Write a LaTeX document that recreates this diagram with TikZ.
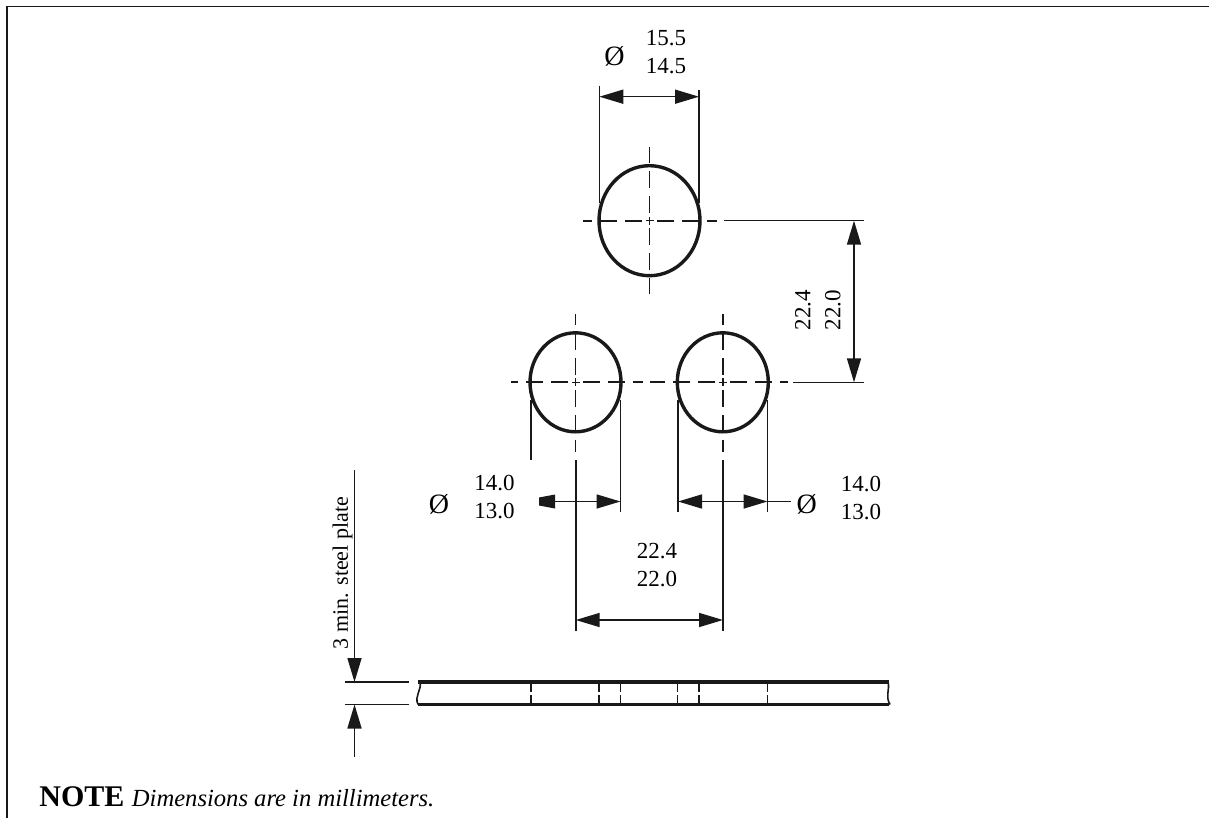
\documentclass[tikz,border=0pt]{standalone}
\usepackage{fontspec}
\setmainfont{Liberation Serif}
\usetikzlibrary{arrows.meta,shapes.geometric}

\tikzset{
  dimline/.style={black!90,line width=0.8pt},
  dimtip/.style={-{Triangle[length=12pt,width=7pt]}},
  dimarrow/.style={dimline,{Triangle[length=12pt,width=7pt]}-{Triangle[length=12pt,width=7pt]}},
  centerline/.style={black!90,line width=0.85pt,dash pattern=on 8.5pt off 4pt,dash phase=8.75pt},
  hole/.style={draw=black!90,line width=1.7pt,ellipse,inner sep=0pt},
  plateline/.style={black!90,line width=1.8pt},
  tick/.style={black!90,line width=0.8pt,dash pattern=on 5pt off 1.5pt},
  label/.style={font=\fontsize{11.5}{11.5}\selectfont,inner sep=0pt},
  sym/.style={font=\fontsize{14}{14}\selectfont,inner sep=0pt}
}

\begin{document}
\begin{tikzpicture}[x=0.5pt,y=-0.5pt]
\useasboundingbox (0,0) rectangle (1209,818);

% frame
\draw[black!90,line width=0.9pt] (1209,6.5) -- (7,6.5) -- (7,818);

% holes
\node[hole,minimum width=50.5pt,minimum height=55pt] (top) at (649.5,220.7) {};
\node[hole,minimum width=45.5pt,minimum height=49.5pt] (left) at (575.5,382.3) {};
\node[hole,minimum width=45.5pt,minimum height=49.5pt] (right) at (722.8,382.3) {};

% center lines, from each hole outwards
\foreach \c/\e in {top/{649.5,147},top/{649.5,294},top/{583,220.7},top/{717,220.7},
  left/{575.5,314},left/{575.5,452},left/{511,382.3},left/{643,382.3},
  right/{722.8,314},right/{722.8,452},right/{650,382.3},right/{788,382.3}}
  \draw[centerline] (\c.center) -- (\e);
\foreach \c in {top,left,right}
  \draw[dimline] ([xshift=-2pt]\c.center) -- ([xshift=2pt]\c.center)
    ([yshift=-2pt]\c.center) -- ([yshift=2pt]\c.center);

% top hole diameter
\draw[dimline] (599.3,86) -- (599.3,203);
\draw[dimline] (699,90) -- (699,203);
\draw[dimarrow] (599.3,96.7) -- (699,96.7);
\node[sym] (topsym) at (614.5,56) {Ø};
\node[label] (topmax) at (666,38) {15.5};
\node[label] (topmin) at (666,66) {14.5};

% hole spacing, vertical
\draw[dimline] (724,220.7) -- (864,220.7);
\draw[dimline] (793,382.3) -- (864,382.3);
\draw[dimarrow] (854,220.7) -- (854,382.3);
\node[label,rotate=90] (rowmax) at (803,310) {22.4};
\node[label,rotate=90] (rowmin) at (833,310) {22.0};

% lower holes diameter
\draw[dimline] (531,400) -- (531,460);
\draw[dimline] (620.5,400) -- (620.5,512);
\draw[dimline] (678,400) -- (678,512);
\draw[dimline] (767.5,400) -- (767.5,512);
\draw[dimline,dimtip] (555,501.5) -- (620.5,501.5);
\fill[black!90] (539,497.5) -- (555,494.5) -- (555,508.5) -- (539,505.5) -- cycle;
\draw[dimarrow] (678,501.5) -- (767.5,501.5);
\draw[dimline] (767.5,501.5) -- (791,501.5);
\node[sym] (leftsym) at (439,504) {Ø};
\node[label] (leftmax) at (494.5,483) {14.0};
\node[label] (leftmin) at (494.5,511) {13.0};
\node[sym] (rightsym) at (806.7,504) {Ø};
\node[label] (rightmax) at (861,484) {14.0};
\node[label] (rightmin) at (861,512) {13.0};

% hole spacing, horizontal
\draw[dimline] (575.7,460) -- (575.7,631);
\draw[dimline] (723,460) -- (723,631);
\draw[dimarrow] (575.7,620) -- (723,620);
\node[label] (colmax) at (657,551) {22.4};
\node[label] (colmin) at (657,579) {22.0};

% plate
\draw[plateline] (418,682) -- (889,682);
\draw[plateline] (418,704.5) -- (889,704.5);
\draw[dimline] (420,682) .. controls (422,690) and (414,696) .. (418,704.5);
\draw[dimline] (888,682) .. controls (890,690) and (885,696) .. (890,704.5);
\foreach \x in {531,599,620.5,677.5,699,767.5}
  \draw[tick] (\x,682) -- (\x,704.5);

% plate thickness
\draw[dimline] (345,682) -- (409,682);
\draw[dimline] (345,704.5) -- (409,704.5);
\draw[dimline,dimtip] (354.5,470) -- (354.5,682);
\draw[dimline,dimtip] (354.5,757) -- (354.5,704.5);
\node[label,font=\fontsize{11}{11}\selectfont,rotate=90] (thick) at (342.7,573) {3 min. steel plate};

% note
\node[anchor=base west,inner sep=0pt] (note) at (39,806)
  {\fontsize{15}{15}\selectfont\textbf{NOTE} \fontsize{12.3}{12.3}\selectfont\textit{Dimensions are in millimeters.}};
\end{tikzpicture}
\end{document}
